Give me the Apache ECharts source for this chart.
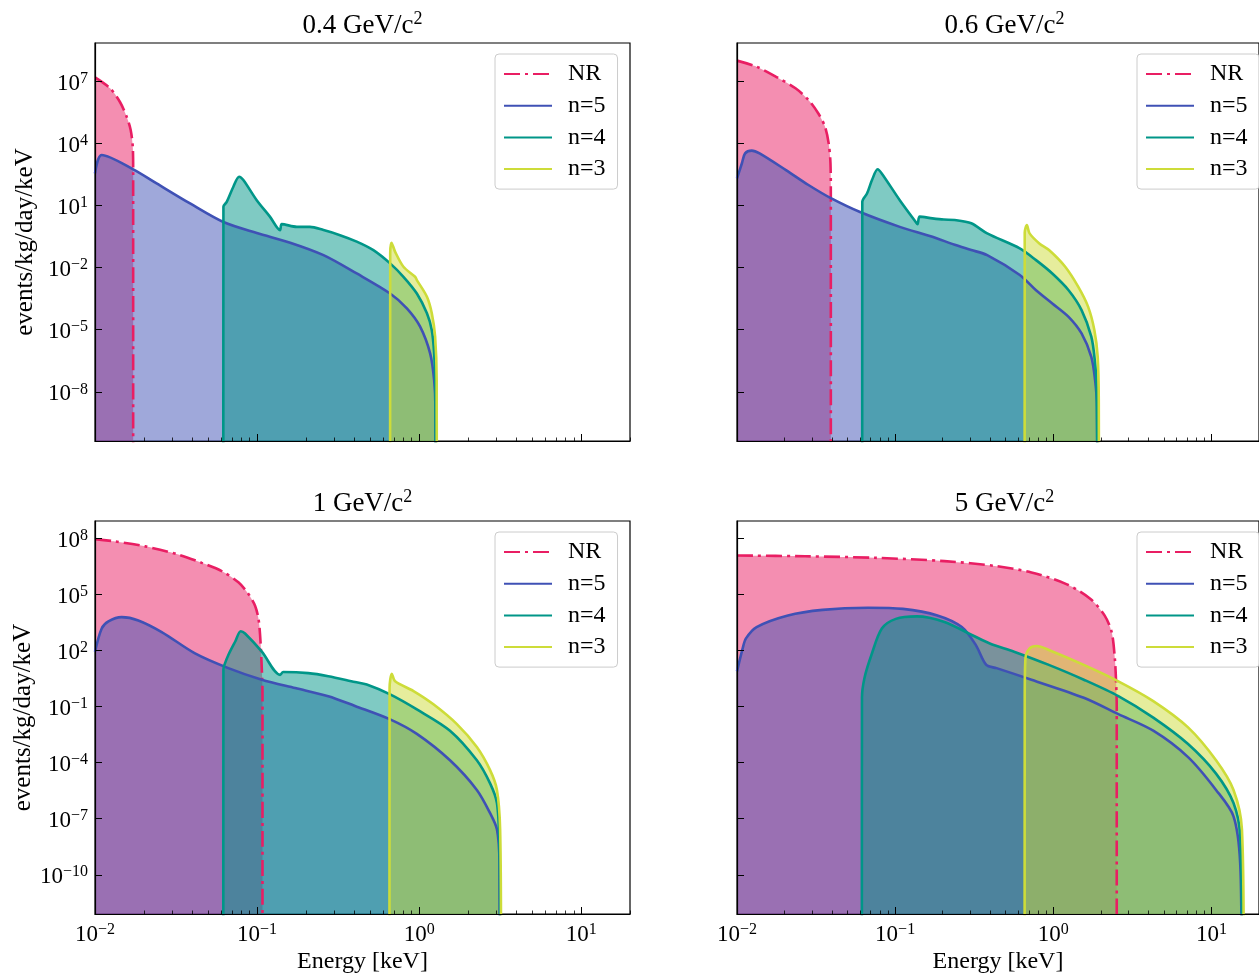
<!DOCTYPE html>
<html><head><meta charset="utf-8">
<script src="https://cdn.jsdelivr.net/npm/echarts@6/dist/echarts.min.js"></script>
<style>html,body{margin:0;padding:0;background:#fff}#c{width:1259px;height:975px}</style>
</head><body><div id="c"></div>
<script>
// ---------- data (energy keV, rate events/kg/day/keV) ----------
const seriesNames = ['NR', 'n=5', 'n=4', 'n=3'];
const panelTitles = ['0.4', '0.6', '1', '5'];
const xMajorTicks = [0.01, 0.1, 1, 10];
const xMinorTicks = [0.02,0.03,0.04,0.05,0.06,0.07,0.08,0.09,0.2,0.3,0.4,0.5,0.6,0.7,0.8,0.9,2,3,4,5,6,7,8,9,20];
const yTicksTop = [1e-8, 1e-5, 1e-2, 1e1, 1e4, 1e7];
const yTicksBottom = [1e-10, 1e-7, 1e-4, 1e-1, 1e2, 1e5, 1e8];
const xRange = [0.01, 20];
const yRangeTop = [4.2e-11, 7.1e8];
const yRangeBottom = [7.9e-13, 8.9e8];

// 0.4 GeV/c^2
const nr_04 = [[0.01,1.55e7],[0.0124,4.6e6],[0.01426,1.0e6],[0.0157,1.9e5],[0.0166,4.5e4],[0.0171,6.9e3],[0.0172,500],[0.0172,1e-14]];
const n5_04 = [[0.01,355],[0.011,2750],[0.0172,560],[0.024,117],[0.0386,12.6],[0.062,1.6],[0.0996,0.47],[0.16,0.16],[0.257,0.04],[0.412,5.2e-3],[0.662,5.6e-4],[0.84,1.07e-4],[1.014,1.4e-5],[1.17,7e-7],[1.238,3.6e-8],[1.26,1.9e-9],[1.262,1e-14]];
const n4_04 = [[0.0619,1e-14],[0.062,8.7],[0.065,15],[0.0714,81],[0.0775,245],[0.0823,170],[0.0995,18],[0.12,2.9],[0.1386,0.65],[0.142,1.26],[0.176,0.93],[0.212,0.93],[0.257,0.65],[0.325,0.37],[0.412,0.18],[0.522,0.07],[0.662,0.016],[0.8,3.6e-3],[0.968,5.6e-4],[1.117,6.2e-5],[1.197,9.5e-6],[1.238,7e-7],[1.26,1.7e-8],[1.265,1e-14]];
const n3_04 = [[0.662,1e-14],[0.663,0.05],[0.675,0.16],[0.711,0.058],[0.8,0.011],[0.944,3.6e-3],[0.968,2.5e-3],[1.117,3.9e-4],[1.197,6.2e-5],[1.255,4.6e-6],[1.283,3.6e-8],[1.285,1e-14]];

// 0.6 GeV/c^2
const nr_06 = [[0.01,1e8],[0.01328,5.1e7],[0.01766,1.66e7],[0.02345,4.6e6],[0.0283,1.26e6],[0.0327,2.8e5],[0.036,6.5e4],[0.038,1e4],[0.039,1.1e3],[0.0392,26],[0.0392,1e-14]];
const n5_06 = [[0.01,204],[0.01074,1.1e3],[0.01125,3.3e3],[0.0124,4.5e3],[0.0139,3.3e3],[0.0204,513],[0.0283,98],[0.0395,22],[0.0605,4.7],[0.107,0.93],[0.172,0.31],[0.238,0.126],[0.303,0.071],[0.382,0.04],[0.614,4.4e-3],[0.778,8.1e-4],[0.986,1.86e-4],[1.25,4.2e-5],[1.51,6.6e-6],[1.74,4.9e-7],[1.84,3.6e-8],[1.89,1.9e-9],[1.9,1e-14]];
const n4_06 = [[0.0619,1e-14],[0.062,15],[0.0665,39],[0.0714,170],[0.0775,562],[0.0823,355],[0.107,18],[0.135,1.6],[0.1386,1.26],[0.143,2.9],[0.172,2.4],[0.203,2.1],[0.238,2.0],[0.303,1.38],[0.382,0.45],[0.614,0.085],[0.778,0.023],[0.986,5.2e-3],[1.25,8.1e-4],[1.51,8.9e-5],[1.74,4.6e-6],[1.83,3.4e-7],[1.88,1.7e-8],[1.905,1e-14]];
const n3_06 = [[0.659,1e-14],[0.66,0.5],[0.681,1.14],[0.708,0.45],[0.816,0.148],[0.94,0.071],[1.19,0.011],[1.44,1.17e-3],[1.66,1.3e-4],[1.82,9.5e-6],[1.91,4.9e-7],[1.94,4e-9],[1.945,1e-14]];

// 1 GeV/c^2
const nr_1 = [[0.01,9.5e7],[0.01328,7.2e7],[0.0204,3.9e7],[0.0327,1.41e7],[0.0456,5.1e6],[0.0605,1.86e6],[0.0767,4.6e5],[0.0884,1.1e5],[0.0972,2.6e4],[0.102,5.1e3],[0.1044,676],[0.1065,26],[0.108,0.5],[0.108,1e-14]];
const n5_1 = [[0.01,89],[0.011,1550],[0.0121,3.7e3],[0.0146,6.3e3],[0.0185,4.2e3],[0.0258,1.0e3],[0.0414,72],[0.0665,11.7],[0.107,2.8],[0.172,1.0],[0.275,0.37],[0.402,0.11],[0.662,0.021],[0.968,3.5e-3],[1.55,1.35e-4],[2.27,3.5e-6],[2.74,2.0e-7],[3.02,2.7e-8],[3.13,4.6e-10],[3.14,1e-14]];
const n4_1 = [[0.0619,1e-14],[0.062,10],[0.0628,17],[0.0665,59],[0.0732,302],[0.0793,1.1e3],[0.0843,832],[0.107,89],[0.1386,5.1],[0.145,7.2],[0.207,6.3],[0.275,4.3],[0.402,2.1],[0.475,1.55],[0.662,0.46],[0.968,0.072],[1.55,5.2e-3],[2.27,1.35e-4],[2.74,7.8e-6],[3.02,6.9e-7],[3.13,3.5e-9],[3.16,1e-14]];
const n3_1 = [[0.656,1e-14],[0.657,1],[0.678,5.9],[0.711,2.3],[0.923,0.69],[1.225,0.135],[1.71,0.0117],[2.27,6.9e-4],[2.74,4e-5],[3.02,3.5e-6],[3.16,2.7e-8],[3.2,1e-14]];

// 5 GeV/c^2
const nr_5 = [[0.01,1.26e7],[0.027,1.15e7],[0.0745,9.5e6],[0.205,6.3e6],[0.438,3.4e6],[0.728,1.55e6],[1.21,3.7e5],[1.72,5.9e4],[2.11,7.8e3],[2.34,1.0e3],[2.45,40],[2.5,1.55],[2.52,0.1],[2.52,1e-14]];
const n5_5 = [[0.01,7.8],[0.01086,135],[0.0114,460],[0.0133,1.86e3],[0.021,7.8e3],[0.0348,1.55e4],[0.0673,2.0e4],[0.112,1.74e4],[0.185,7.8e3],[0.264,1.86e3],[0.324,200],[0.377,17.4],[0.438,11.7],[0.728,2.8],[1.56,0.3],[2.58,0.04],[4.29,5.2e-3],[7.12,2.0e-4],[10.7,3.5e-6],[13.8,1.35e-7],[15.2,4.6e-10],[15.5,1e-14]];
const n4_5 = [[0.0616,1e-14],[0.0617,0.3],[0.064,3.5],[0.0708,59],[0.0824,1550],[0.101,5.1e3],[0.137,6.9e3],[0.205,3.5e3],[0.308,676],[0.397,245],[0.565,89],[0.937,17.4],[1.56,2.8],[2.58,0.37],[4.29,0.026],[7.12,1.0e-3],[10.7,2.6e-5],[13.8,6.9e-7],[15.2,1.2e-8],[15.6,1e-14]];
const n3_5 = [[0.659,1e-14],[0.66,0.3],[0.667,40],[0.709,135],[0.785,178],[0.937,110],[1.56,17.4],[2.58,2.3],[4.29,0.2],[7.12,7.8e-3],[10.7,1.35e-4],[13.8,3.5e-6],[15.6,2.7e-8],[16.0,1e-14]];

// ---------- styling ----------
const FONT = "'Liberation Serif','Times New Roman',serif";
const colors = ['#e91e63', '#3f51b5', '#009688', '#cddc39'];
const panelData = [
  [nr_04, n5_04, n4_04, n3_04],
  [nr_06, n5_06, n4_06, n3_06],
  [nr_1, n5_1, n4_1, n3_1],
  [nr_5, n5_5, n4_5, n3_5]
];
const layout = [
  {left: 95, top: 43, bottomRow: false, leftCol: true},
  {left: 737, top: 43, bottomRow: false, leftCol: false},
  {left: 95, top: 521, bottomRow: true, leftCol: true},
  {left: 737, top: 521, bottomRow: true, leftCol: false}
];
const W = 535, H = 398;
const SMOOTH = 0.3;

function expLabel(v) {
  const e = Math.round(Math.log10(v));
  const s = e < 0 ? '\u2212' + (-e) : String(e);
  return '{b|10}{s|' + s + '}';
}
const tickRich = {
  b: {fontFamily: FONT, fontSize: 23, lineHeight: 26, color: '#000'},
  s: {fontFamily: FONT, fontSize: 16, lineHeight: 16, verticalAlign: 'top', color: '#000'}
};

const grids = [], xAxes = [], yAxes = [], series = [], titles = [], legends = [];
layout.forEach((L, i) => {
  grids.push({left: L.left, top: L.top, width: W, height: H, show: true,
    borderColor: '#000', borderWidth: 1.2, backgroundColor: 'transparent'});
  xAxes.push({
    type: 'log', logBase: 10, gridIndex: i, min: xRange[0], max: xRange[1], position: 'bottom', z: 10,
    axisLine: {show: true, lineStyle: {color: '#000', width: 1.2}},
    axisTick: {show: true, inside: true, length: 7, customValues: xMajorTicks, lineStyle: {color: '#000', width: 1}},
    axisLabel: {show: L.bottomRow, customValues: xMajorTicks, formatter: expLabel, rich: tickRich, margin: 8},
    splitLine: {show: false}, minorTick: {show: false},
    name: L.bottomRow ? 'Energy [keV]' : '', nameLocation: 'middle', nameGap: 36,
    nameTextStyle: {fontFamily: FONT, fontSize: 24, color: '#000'}
  });
  xAxes.push({
    type: 'log', logBase: 10, gridIndex: i, min: xRange[0], max: xRange[1], position: 'bottom', z: 10,
    axisLine: {show: false},
    axisTick: {show: true, inside: true, length: 3.5, customValues: xMinorTicks, lineStyle: {color: '#000', width: 0.8}},
    axisLabel: {show: false}, splitLine: {show: false}
  });
  const yr = L.bottomRow ? yRangeBottom : yRangeTop;
  const yt = L.bottomRow ? yTicksBottom : yTicksTop;
  yAxes.push({
    type: 'log', logBase: 10, gridIndex: i, min: yr[0], max: yr[1], z: 10,
    axisLine: {show: true, lineStyle: {color: '#000', width: 1.2}},
    axisTick: {show: true, inside: true, length: 7, customValues: yt, lineStyle: {color: '#000', width: 1}},
    axisLabel: {show: L.leftCol, customValues: yt, formatter: expLabel, rich: tickRich, margin: 7, padding: [5, 0, 0, 0]},
    splitLine: {show: false},
    name: L.leftCol ? 'events/kg/day/keV' : '', nameLocation: 'middle', nameGap: 57, nameRotate: 90,
    nameTextStyle: {fontFamily: FONT, fontSize: 25, color: '#000'}
  });
  titles.push({
    text: '{t|' + panelTitles[i] + ' GeV/c}{s|2}',
    left: L.left + W / 2, top: L.top - 33, textAlign: 'center', padding: 0,
    textStyle: {fontWeight: 'normal', rich: {
      t: {fontFamily: FONT, fontSize: 27, fontWeight: 'normal', lineHeight: 32, color: '#000'},
      s: {fontFamily: FONT, fontSize: 18, fontWeight: 'normal', lineHeight: 18, verticalAlign: 'top', color: '#000'}
    }}
  });
  legends.push({
    orient: 'vertical', left: L.left + 400, top: L.top + 11,
    padding: [8, 12, 8, 8], itemGap: 7.7, itemWidth: 48, itemHeight: 14,
    backgroundColor: 'rgba(255,255,255,0.8)', borderColor: '#cccccc', borderWidth: 1, borderRadius: 4,
    selectedMode: false, itemStyle: {opacity: 0},
    textStyle: {fontFamily: FONT, fontSize: 24, lineHeight: 22, color: '#000', padding: [0, 0, 0, 11]},
    data: seriesNames.slice()
  });
  panelData[i].forEach((arr, k) => {
    series.push({
      type: 'line', name: seriesNames[k] + ' area', xAxisIndex: 2 * i, yAxisIndex: i,
      data: arr, symbol: 'none', silent: true, z: 2, smooth: SMOOTH,
      lineStyle: {width: 0, color: colors[k]}, itemStyle: {color: colors[k]},
      areaStyle: {color: colors[k], opacity: 0.5, origin: 'start'}
    });
  });
  panelData[i].forEach((arr, k) => {
    series.push({
      type: 'line', name: seriesNames[k], xAxisIndex: 2 * i, yAxisIndex: i,
      data: arr, symbol: 'none', silent: true, z: 3, smooth: SMOOTH,
      lineStyle: {width: 2.6, color: colors[k], type: k === 0 ? [16, 5, 3, 5] : 'solid'},
      itemStyle: {color: colors[k]}
    });
  });
});

const chart = echarts.init(document.getElementById('c'), null, {renderer: 'canvas'});
chart.setOption({
  backgroundColor: '#fff', animation: false,
  title: titles, legend: legends, grid: grids, xAxis: xAxes, yAxis: yAxes, series: series
});
</script>
</body></html>
